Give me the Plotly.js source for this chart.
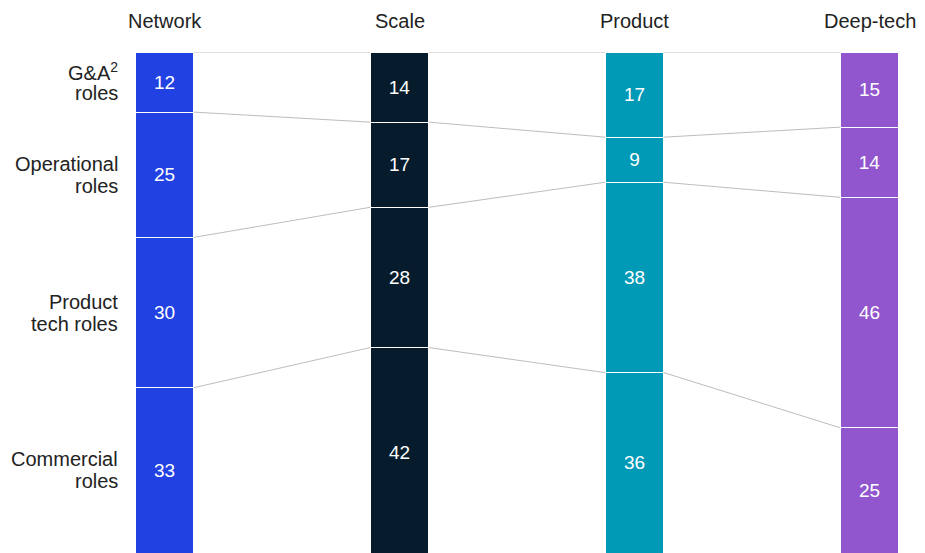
<!DOCTYPE html>
<html>
<head>
<meta charset="utf-8">
<script src="https://cdn.plot.ly/plotly-3.0.1.min.js"></script>
<style>html,body{margin:0;padding:0;background:#fff;}#chart{width:925px;height:553px;}</style>
</head>
<body>
<div id="chart"></div>
<script>
const archetypes = ["Network", "Scale", "Product", "Deep-tech"];
const roleLine1 = ["G&A<sup>2</sup>", "Operational", "Product", "Commercial"];
const roleLine2 = ["roles", "roles", "tech roles", "roles"];
const gaRoles = [12, 14, 17, 15];
const operationalRoles = [25, 17, 9, 14];
const productTechRoles = [30, 28, 38, 46];
const commercialRoles = [33, 42, 36, 25];
const barColors = ["#2141E3", "#061C2C", "#0099B6", "#9155CE"];

const series = [gaRoles, operationalRoles, productTechRoles, commercialRoles];
const xs = archetypes.map((_, i) => i);
const barW = 0.25;
const FONT = "Liberation Sans, Arial, sans-serif";

const traces = [];
const cum = archetypes.map((_, i) => {
  const c = [0];
  series.forEach(s => c.push(c[c.length - 1] + s[i]));
  return c;
});
for (let k = 0; k < series.length; k++) {
  const lx = [], ly = [];
  for (let i = 0; i < archetypes.length - 1; i++) {
    lx.push(xs[i] + barW / 2, xs[i + 1] - barW / 2, null);
    ly.push(cum[i][k], cum[i + 1][k], null);
  }
  traces.push({type: "scatter", mode: "lines", x: lx, y: ly, line: {color: "#BDBDBD", width: 1},
    hoverinfo: "skip", showlegend: false, cliponaxis: false});
}
series.forEach((s, k) => {
  traces.push({
    type: "bar", x: xs, y: s, width: barW,
    marker: {color: barColors, line: {color: "#ffffff", width: 1}},
    text: s.map(String), textposition: "inside", insidetextanchor: "middle", textangle: 0,
    constraintext: "none",
    textfont: {color: "#ffffff", size: 19, family: FONT},
    hoverinfo: "skip", showlegend: false
  });
});

const annotations = [];
archetypes.forEach((a, i) => {
  annotations.push({x: xs[i], xref: "x", y: 1, yref: "paper", yanchor: "bottom", yshift: 18,
    text: a, showarrow: false, font: {size: 20, color: "#222222", family: FONT}});
});
series.forEach((s, k) => {
  const yc = cum[0][k] + s[0] / 2;
  [[roleLine1[k], 11], [roleLine2[k], -11]].forEach(([t, sh]) => {
    annotations.push({x: xs[0] - barW / 2, xref: "x", xanchor: "right", xshift: -15,
      y: yc, yref: "y", yanchor: "middle", yshift: sh,
      text: t, align: "right", showarrow: false, font: {size: 20, color: "#222222", family: FONT}});
  });
});

const layout = {
  width: 925, height: 553,
  margin: {l: 0, r: 0, t: 52, b: 0},
  paper_bgcolor: "#ffffff", plot_bgcolor: "#ffffff",
  barmode: "stack", bargap: 0,
  xaxis: {range: [-0.7, 3.236], visible: false, fixedrange: true},
  yaxis: {range: [100, 0], visible: false, fixedrange: true},
  annotations: annotations,
  font: {family: FONT}
};
Plotly.newPlot("chart", traces, layout, {displayModeBar: false, staticPlot: true});
</script>
</body>
</html>
